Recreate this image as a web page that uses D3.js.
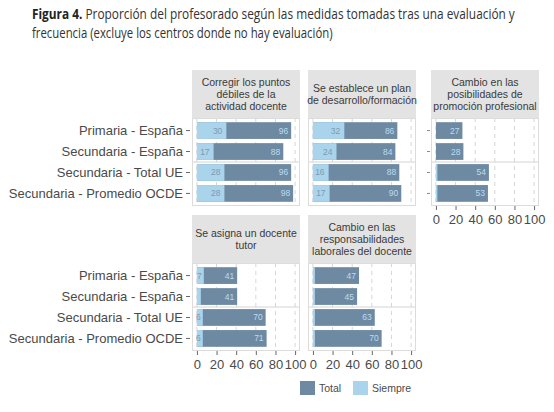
<!DOCTYPE html>
<html>
<head>
<meta charset="utf-8">
<script src="https://cdn.jsdelivr.net/npm/d3@7"></script>
<style>
  body { margin: 0; background: #fff; }
  svg { display: block; }
  .chart text { font-family: "Liberation Sans", Arial, sans-serif; }
  .chart .title text { font-family: "Open Sans", sans-serif; }
</style>
</head>
<body>
<div class="container"></div>
<script>
// values
const groups = ["Primaria - España", "Secundaria - España", "Secundaria - Total UE", "Secundaria - Promedio OCDE"]
const measures = [
    ["Corregir los puntos", "débiles de la", "actividad docente"],
    ["Se establece un plan", "de desarrollo/formación"],
    ["Cambio en las", "posibilidades de", "promoción profesional"],
    ["Se asigna un docente", "tutor"],
    ["Cambio en las", "responsabilidades", "laborales del docente"]
]
const totalValues = [
    [96, 88, 96, 98],
    [86, 84, 88, 90],
    [27, 28, 54, 53],
    [41, 41, 70, 71],
    [47, 45, 63, 70]
]
const siempreValues = [
    [30, 17, 28, 28],
    [32, 24, 16, 17],
    [0, 0, 1.5, 1.5],
    [7, 4, 6, 6],
    [2, 2, 2, 2]
]
const xTicks = [0, 20, 40, 60, 80, 100]
const seriesNames = ["Total", "Siempre"]

const w = 554
const h = 412
const colors = { Total: "#6e8aa3", Siempre: "#aad4ec" }

// facet layout
const panelW = 108
const headerH = 48
const plotH = 88
const rowTops = [70, 215]
const panels = [
    { x: 192, row: 0, yLabels: true, xAxis: false, yTicks: false },
    { x: 308, row: 0, yLabels: false, xAxis: false, yTicks: false },
    { x: 431, row: 0, yLabels: false, xAxis: true, yTicks: true },
    { x: 192, row: 1, yLabels: true, xAxis: true, yTicks: false },
    { x: 308, row: 1, yLabels: false, xAxis: true, yTicks: false }
]

const svg = d3.select(".container")
    .append("svg")
    .attr("width", w)
    .attr("height", h)
    .attr("class", "chart")

// title - the original face is condensed, so squeeze Open Sans horizontally
const titleLines = [
    { y: 18.5, width: 483, bold: "Figura 4. ", rest: "Proporción del profesorado según las medidas tomadas tras una evaluación y" },
    { y: 37.5, width: 301, bold: "", rest: "frecuencia (excluye los centros donde no hay evaluación)" }
]
titleLines.forEach(line => {
    const g = svg.append("g").attr("class", "title")
    const t = g.append("text")
        .attr("font-size", 13.8)
        .attr("fill", "#333")
    if (line.bold) t.append("tspan").attr("font-weight", "bold").attr("fill", "#222").text(line.bold)
    t.append("tspan").text(line.rest)
    const len = t.node().getComputedTextLength()
    g.attr("transform", `translate(32,${line.y}) scale(${line.width / len},1)`)
})

measures.forEach((lines, i) => {
    const p = panels[i]
    const top = rowTops[p.row]
    const plotTop = top + headerH

    const x = d3.scaleLinear().domain([-5, 105]).range([p.x, p.x + panelW])
    const y = d3.scaleBand().domain(groups).range([plotTop, plotTop + plotH])
        .paddingInner(0.2).paddingOuter(0.2)

    const g = svg.append("g")

    // strip
    g.append("rect")
        .attr("x", p.x).attr("y", top)
        .attr("width", panelW).attr("height", headerH)
        .attr("fill", "#e3e3e3")

    g.selectAll(".strip")
        .data(lines)
        .enter()
        .append("text")
        .attr("x", p.x + panelW / 2)
        .attr("y", (d, k) => top + headerH / 2 + (k - (lines.length - 1) / 2) * 12 + 3.7)
        .attr("text-anchor", "middle")
        .attr("font-size", 10.5)
        .attr("fill", "#3a3a3a")
        .text(d => d)

    // panel background
    g.append("rect")
        .attr("x", p.x).attr("y", plotTop)
        .attr("width", panelW).attr("height", plotH)
        .attr("fill", "#fff")

    // dashed grid
    g.selectAll(".grid")
        .data(xTicks)
        .enter()
        .append("line")
        .attr("x1", d => x(d)).attr("x2", d => x(d))
        .attr("y1", plotTop).attr("y2", plotTop + plotH)
        .attr("stroke", "#d6d6d6")
        .attr("stroke-dasharray", "4,4")

    // separator between Spain and international groups
    const sepY = (y(groups[1]) + y.bandwidth() + y(groups[2])) / 2
    g.append("line")
        .attr("x1", p.x).attr("x2", p.x + panelW)
        .attr("y1", sepY).attr("y2", sepY)
        .attr("stroke", "#d4d4d4")

    const total = totalValues[i].map((v, k) => ({ v: v, k: k }))
    const siempre = siempreValues[i].map((v, k) => ({ v: v, k: k }))

    g.selectAll(".total")
        .data(total)
        .enter()
        .append("rect")
        .attr("x", x(0))
        .attr("y", d => y(groups[d.k]))
        .attr("width", d => x(d.v) - x(0))
        .attr("height", y.bandwidth())
        .attr("fill", colors.Total)

    g.selectAll(".siempre")
        .data(siempre)
        .enter()
        .append("rect")
        .attr("x", x(0))
        .attr("y", d => y(groups[d.k]))
        .attr("width", d => x(d.v) - x(0))
        .attr("height", y.bandwidth())
        .attr("fill", colors.Siempre)

    g.selectAll(".totalLabel")
        .data(total)
        .enter()
        .append("text")
        .attr("x", d => x(d.v) - 3)
        .attr("y", d => y(groups[d.k]) + y.bandwidth() / 2 + 3)
        .attr("text-anchor", "end")
        .attr("font-size", 8.5)
        .attr("fill", "#b9dcf1")
        .text(d => d.v)

    // small Siempre shares carry no label
    g.selectAll(".siempreLabel")
        .data(siempre.filter(d => d.v >= 5))
        .enter()
        .append("text")
        .attr("x", d => x(d.v) - (d.v < 10 ? 2 : 4))
        .attr("y", d => y(groups[d.k]) + y.bandwidth() / 2 + 3)
        .attr("text-anchor", "end")
        .attr("font-size", 8.5)
        .attr("fill", "#7d99b1")
        .text(d => d.v)

    // border
    g.append("rect")
        .attr("x", p.x + 0.5).attr("y", plotTop + 0.5)
        .attr("width", panelW - 1).attr("height", plotH - 1)
        .attr("fill", "none")
        .attr("stroke", "#dcdcdc")

    if (p.yLabels) {
        const yAxis = d3.axisLeft(y).tickSize(4).tickPadding(3)
        const ya = g.append("g")
            .attr("transform", `translate(${p.x - 2},0)`)
            .call(yAxis)
            .attr("font-family", null)
        ya.select(".domain").remove()
        ya.selectAll(".tick line").attr("stroke", "#666")
        ya.selectAll("text").attr("font-size", 13).attr("fill", "#4a4a4a")
    }
    if (p.yTicks) {
        const ya = g.append("g")
            .attr("transform", `translate(${p.x - 1},0)`)
            .call(d3.axisLeft(y).tickSize(3).tickFormat(""))
        ya.select(".domain").remove()
        ya.selectAll(".tick line").attr("stroke", "#888")
    }
    if (p.xAxis) {
        const xAxis = d3.axisBottom(x).tickValues(xTicks).tickSize(4).tickPadding(5)
        const xa = g.append("g")
            .attr("transform", `translate(0,${plotTop + plotH})`)
            .call(xAxis)
            .attr("font-family", null)
        xa.select(".domain").remove()
        xa.selectAll(".tick line").attr("stroke", "#666")
        xa.selectAll("text").attr("font-size", 13).attr("fill", "#4a4a4a")
    }
})

// legend
const legendX = [300, 353]
const legend = svg.selectAll(".legend")
    .data(seriesNames)
    .enter()
    .append("g")
    .attr("transform", (d, i) => `translate(${legendX[i]},381)`)

legend.append("rect")
    .attr("width", 15).attr("height", 14)
    .attr("fill", d => colors[d])

legend.append("text")
    .attr("x", 19).attr("y", 11)
    .attr("font-size", 10.5)
    .attr("fill", "#4a4a4a")
    .text(d => d)
</script>
</body>
</html>
